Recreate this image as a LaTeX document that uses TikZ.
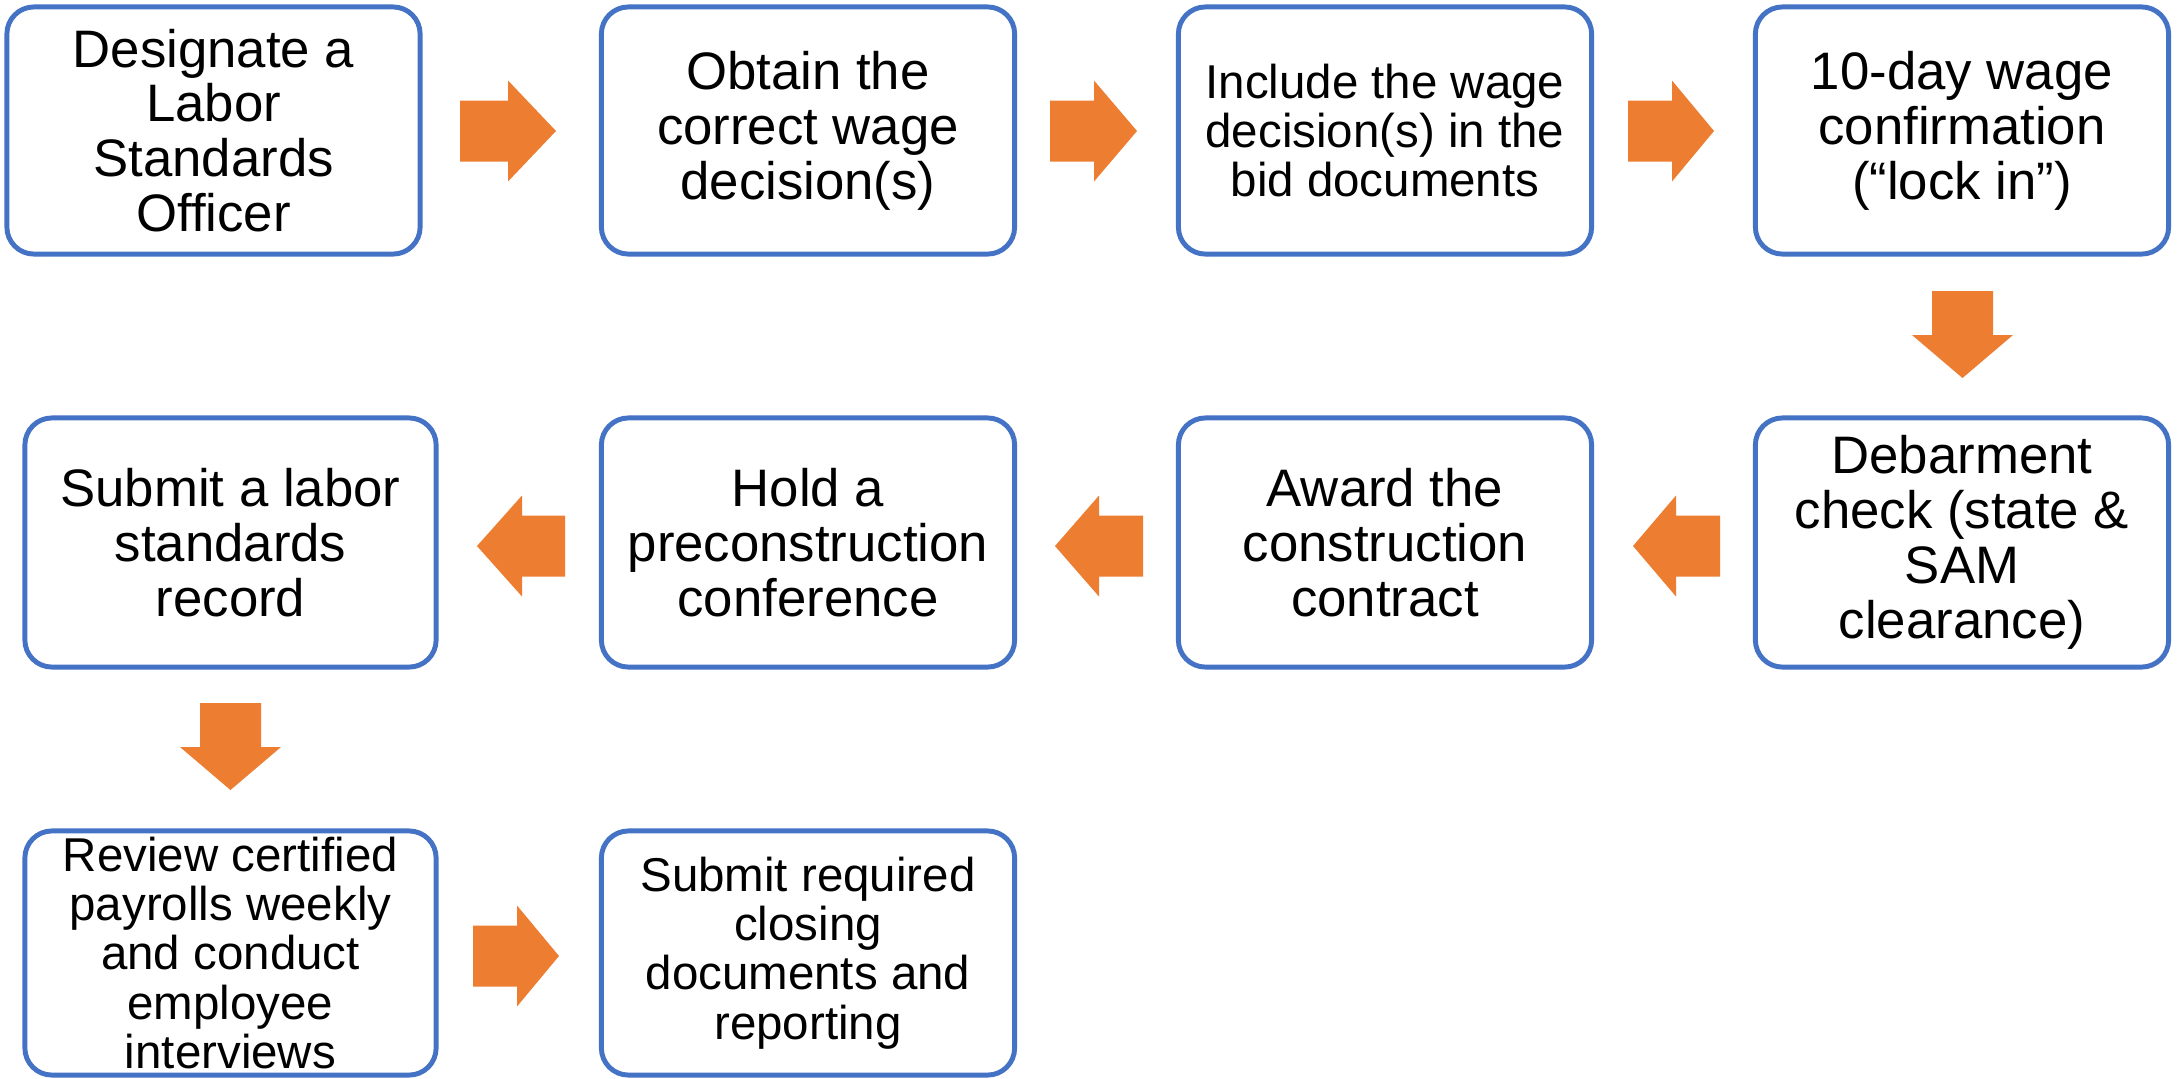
\documentclass[tikz,border=0pt]{standalone}
\usepackage{fontspec}
\setmainfont{Liberation Sans}
\definecolor{boxblue}{HTML}{4472C4}
\definecolor{arrorange}{HTML}{ED7D31}
\tikzset{
  box/.style={draw=boxblue, line width=1.4pt, rounded corners=0.27cm, fill=white,
    inner sep=0pt, align=center, minimum width=4.13cm,
    font=\fontsize{15}{15.6}\selectfont},
  smalltext/.style={font=\fontsize{13.5}{14}\selectfont},
  arrowfill/.style={fill=arrorange},
}
% right-pointing block arrow: shaft start, head base, tip, centre y
\newcommand\arrR[4]{\fill[arrowfill] (#1,#4-30.5) -- (#2,#4-30.5) -- (#2,#4-50.5) -- (#3,#4) -- (#2,#4+50.5) -- (#2,#4+30.5) -- (#1,#4+30.5) -- cycle;}
% down-pointing block arrow: centre x, shaft top, head base, tip
\newcommand\arrD[4]{\fill[arrowfill] (#1-30.5,#2) -- (#1+30.5,#2) -- (#1+30.5,#3) -- (#1+50.5,#3) -- (#1,#4) -- (#1-50.5,#3) -- (#1-30.5,#3) -- cycle;}
\begin{document}
\begin{tikzpicture}[x=0.01cm,y=-0.01cm]
\useasboundingbox (0,0) rectangle (2184,1078);
\fill[white] (0,0) rectangle (2184,1078);

% row 1
\node[box, minimum height=2.47cm] (b1) at (213.5,130.5) {Designate a\\Labor\\Standards\\Officer};
\node[box, minimum height=2.47cm] (b2) at (808,130.5) {Obtain the\\correct wage\\decision(s)};
\node[box, smalltext, minimum height=2.47cm] (b3) at (1385,130.5) {Include the wage\\decision(s) in the\\bid documents};
\node[box, minimum height=2.47cm] (b4) at (1962,130.5) {10-day wage\\confirmation\\(“lock in”)};

% row 2
\node[box, minimum height=2.49cm, minimum width=4.11cm] (c1) at (230.5,542.5) {Submit a labor\\standards\\record};
\node[box, minimum height=2.49cm] (c2) at (808,542.5) {Hold a\\preconstruction\\conference};
\node[box, minimum height=2.49cm] (c3) at (1385,542.5) {Award the\\construction\\contract};
\node[box, minimum height=2.49cm] (c4) at (1962,542.5) {Debarment\\check (state \&\\SAM\\clearance)};

% row 3
\node[box, smalltext, minimum height=2.44cm, minimum width=4.11cm] (d1) at (230.5,953) {Review certified\\payrolls weekly\\and conduct\\employee\\interviews};
\node[box, smalltext, minimum height=2.44cm] (d2) at (808,953) {Submit required\\closing\\documents and\\reporting};

% arrows row 1
\arrR{460}{508}{556}{131}
\arrR{1050}{1094}{1137}{131}
\arrR{1628}{1672}{1714}{131}
% down arrow to row 2
\arrD{1962.5}{291}{335}{378}
% arrows row 2 (pointing left)
\arrR{565}{522}{477}{546}
\arrR{1143}{1099}{1055}{546}
\arrR{1720}{1676}{1633}{546}
% down arrow to row 3
\arrD{230.5}{703}{747}{790}
% arrow row 3
\arrR{473}{517}{559}{956}
\end{tikzpicture}
\end{document}
